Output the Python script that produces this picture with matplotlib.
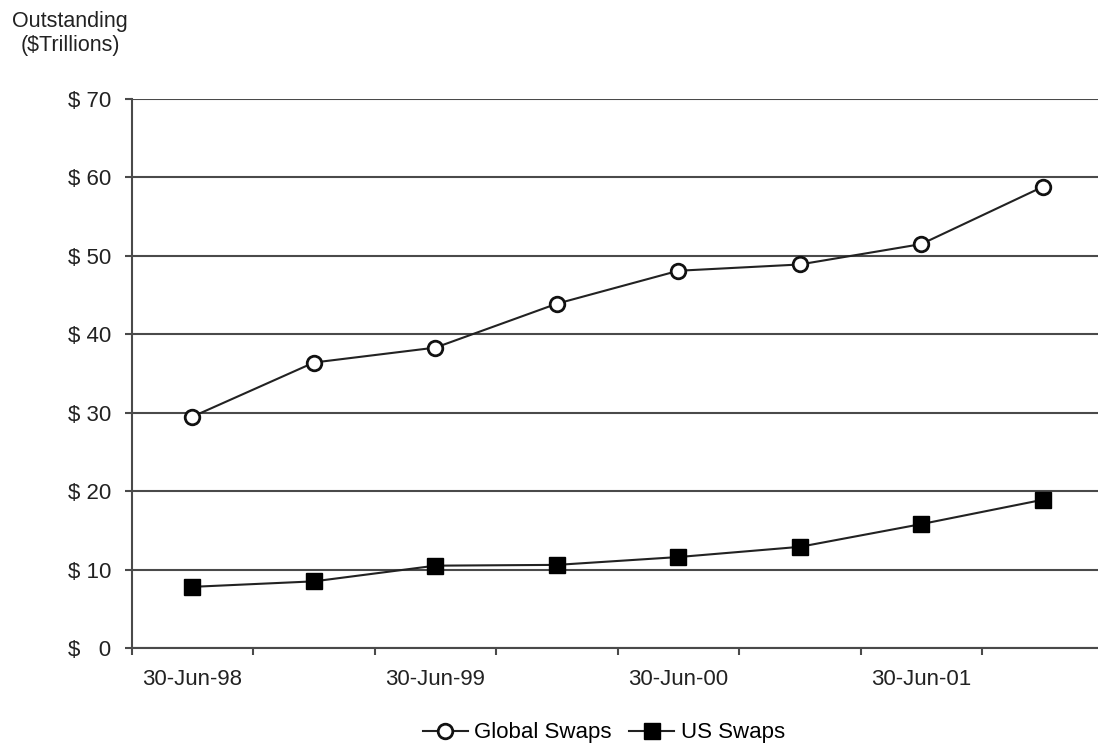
import matplotlib.pyplot as plt
import numpy as np

plt.rcParams['font.family'] = ['Liberation Sans', 'DejaVu Sans']

# semi-annual dates, Jun-98 .. Dec-01
periods = ['30-Jun-98', '31-Dec-98', '30-Jun-99', '31-Dec-99',
           '30-Jun-00', '31-Dec-00', '30-Jun-01', '31-Dec-01']
global_swaps = [29.5, 36.4, 38.3, 43.9, 48.1, 48.9, 51.5, 58.8]
us_swaps = [7.8, 8.5, 10.5, 10.6, 11.6, 12.9, 15.8, 18.9]
yticks = [0, 10, 20, 30, 40, 50, 60, 70]

fig = plt.figure(figsize=(10.98, 7.47), dpi=100)
ax = fig.add_axes([0.120, 0.1325, 0.885, 0.735])

x = np.arange(len(periods))
ax.plot(x, global_swaps, color='#222222', lw=1.5, marker='o', ms=10.5,
        mfc='white', mec='#111111', mew=2, label='Global Swaps')
ax.plot(x, us_swaps, color='#222222', lw=1.5, marker='s', ms=11,
        mfc='black', mec='black', label='US Swaps')

ax.set_ylim(0, 70)
ax.set_xlim(-0.5, len(periods) - 0.5)
ax.set_yticks(yticks)
# pad single digits so the $ signs line up
ax.set_yticklabels(['$ %d' % v if v >= 10 else '$   %d' % v for v in yticks])
ax.yaxis.grid(True, color='#4a4a4a', lw=1.5)
ax.set_axisbelow(True)

# labels on every other period, tick marks between categories
ax.set_xticks(x[::2])
ax.set_xticklabels(periods[::2])
ax.set_xticks(np.arange(-0.5, len(periods)), minor=True)
ax.tick_params(axis='x', which='major', length=0, pad=15, labelsize=16, colors='#222222')
ax.tick_params(axis='x', which='minor', length=5, width=1.5, color='#4a4a4a')
ax.tick_params(axis='y', length=5, width=1.5, color='#4a4a4a', pad=10,
               labelsize=16, labelcolor='#222222')

for s in ['top', 'right']:
    ax.spines[s].set_visible(False)
for s in ['left', 'bottom']:
    ax.spines[s].set_color('#4a4a4a')
    ax.spines[s].set_linewidth(1.5)

fig.text(0.064, 0.985, 'Outstanding\n($Trillions)', ha='center', va='top',
         fontsize=15.5, color='#222222', linespacing=1.2)

fig.legend(loc='center', bbox_to_anchor=(0.55, 0.019), ncol=2, frameon=False,
           fontsize=16, handlelength=2.0, handletextpad=0.3, columnspacing=0.8,
           borderpad=0)

fig.savefig('out.png', dpi=100)
